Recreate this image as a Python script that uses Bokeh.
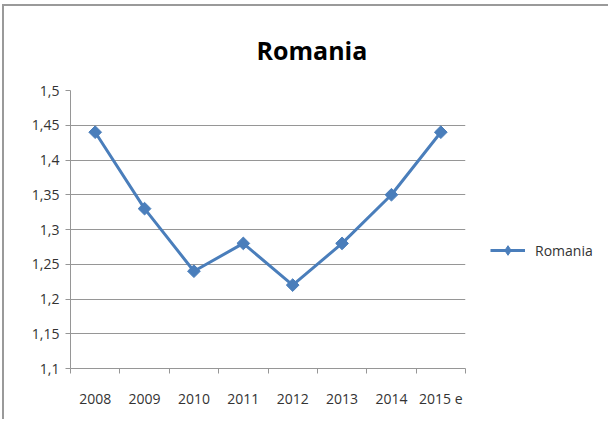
import numpy as np
from bokeh.plotting import figure
from bokeh.models import FixedTicker, CustomJSTickFormatter, Legend, LegendItem, Range1d, Title
from bokeh.embed import file_html
from bokeh.resources import INLINE

years = ["2008", "2009", "2010", "2011", "2012", "2013", "2014", "2015 e"]
values = [1.44, 1.33, 1.24, 1.28, 1.22, 1.28, 1.35, 1.44]
y_ticks = [1.1, 1.15, 1.2, 1.25, 1.3, 1.35, 1.4, 1.45, 1.5]
series_name = "Romania"
chart_title = "Romania"

xs = [i + 0.5 for i in range(len(years))]

FW, FH = 395, 278
L, R, T, B = 66, 135, 84, 51

p = figure(frame_width=FW, frame_height=FH, output_backend="svg", toolbar_location=None,
           x_range=Range1d(0, len(years)), y_range=Range1d(y_ticks[0], y_ticks[-1]),
           min_border_left=L, min_border_right=R, min_border_top=T, min_border_bottom=B)
p.outline_line_color = None
p.background_fill_color = "white"
p.border_fill_color = "white"
p.styles = {"margin-top": "4px", "margin-left": "2px",
            "border-top": "2px solid #9a9a9a", "border-left": "2px solid #9a9a9a"}

# grid
p.xgrid.visible = False
p.ygrid.grid_line_color = "#969696"
p.ygrid.grid_line_width = 1

# y axis
p.yaxis.ticker = FixedTicker(ticks=y_ticks)
p.yaxis.formatter = CustomJSTickFormatter(code="return tick.toFixed(2).replace(/0$/,'').replace('.',',');")
p.yaxis.axis_line_color = "#969696"
p.yaxis.major_tick_line_color = "#969696"
p.yaxis.major_tick_out = 5
p.yaxis.major_tick_in = 0
p.yaxis.minor_tick_line_color = None
p.yaxis.major_label_text_font = "Open Sans"
p.yaxis.major_label_text_font_size = "14px"
p.yaxis.major_label_text_color = "#333333"
p.yaxis.major_label_standoff = 6

# x axis
p.xaxis.ticker = FixedTicker(ticks=xs, minor_ticks=list(range(len(years) + 1)))
p.xaxis.major_label_overrides = {x: y for x, y in zip(xs, years)}
p.xaxis.axis_line_color = "#969696"
p.xaxis.major_tick_out = 0
p.xaxis.major_tick_in = 0
p.xaxis.minor_tick_out = 5
p.xaxis.minor_tick_in = 0
p.xaxis.minor_tick_line_color = "#969696"
p.xaxis.major_label_text_font = "Open Sans"
p.xaxis.major_label_text_font_size = "14px"
p.xaxis.major_label_text_color = "#333333"
p.xaxis.major_label_standoff = 15

blue = "#4a7ebb"
l = p.line(xs, values, line_color=blue, line_width=3)
s = p.scatter(xs, values, marker="square", angle=np.pi / 4, size=9,
              fill_color=blue, line_color=blue)
# hidden diamond renderer used only for the legend sample
lg = p.scatter(xs, values, marker="diamond", size=10, fill_color=blue,
               line_color=blue, visible=False)

legend = Legend(items=[LegendItem(label=series_name, renderers=[l, lg])],
                location=(25, 106),
                border_line_color=None, background_fill_alpha=0,
                padding=0, margin=0, glyph_width=35, glyph_height=24,
                label_standoff=10,
                label_text_font="Open Sans", label_text_font_size="14px",
                label_text_color="#333333")
p.add_layout(legend, "right")

p.title = Title(text=chart_title, align="left", offset=186, standoff=47,
                text_font="Open Sans", text_font_style="bold",
                text_font_size="25px", text_color="black")

open("out.html", "w").write(file_html(p, INLINE))
